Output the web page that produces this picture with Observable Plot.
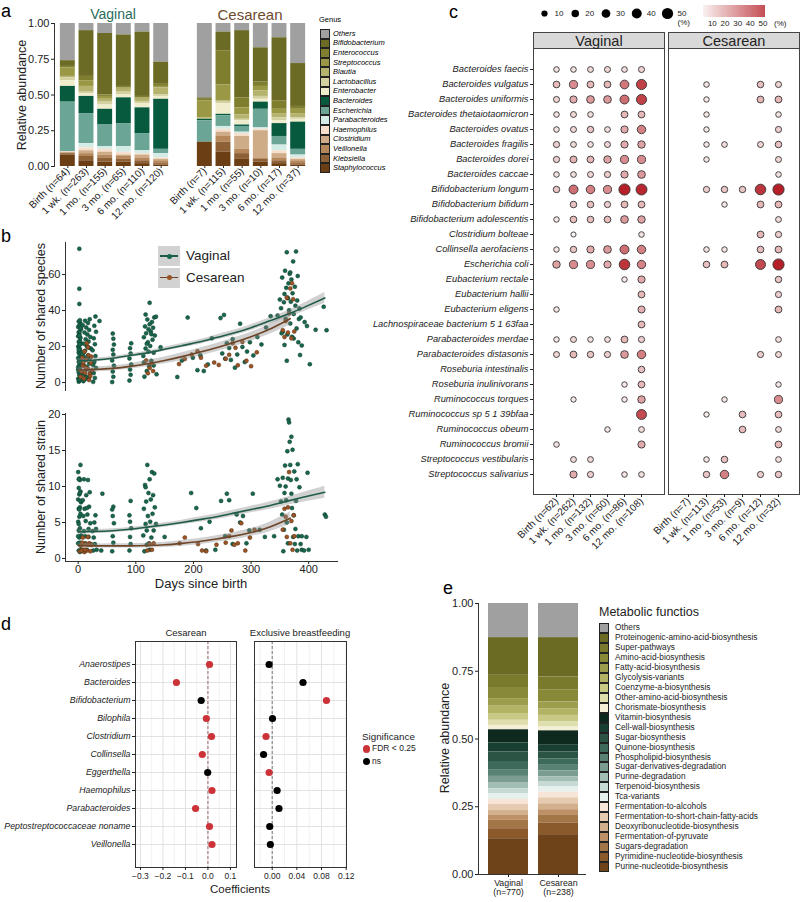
<!DOCTYPE html>
<html><head><meta charset="utf-8">
<script src="https://cdn.jsdelivr.net/npm/d3@7"></script>
<script src="https://cdn.jsdelivr.net/npm/@observablehq/plot@0.6"></script>
<style>
body{margin:0;background:#fff;}
#root{position:relative;width:800px;height:902px;overflow:hidden;background:#fff;font-family:"Liberation Sans",Arial,Helvetica,sans-serif;}
.ital g[aria-label="y-axis tick label"] text{font-style:italic;}
</style></head><body><div id="root"></div>
<script>
// ---------------- DATA ----------------
// Panel a
const genusNames = ["Others","Bifidobacterium","Enterococcus","Streptococcus","Blautia","Lactobacillus","Enterobacter","Bacteroides","Escherichia","Parabacteroides","Haemophilus","Clostridium","Veillonella","Klebsiella","Staphylococcus"];
const genusColors = ["#a0a0a0","#6c6b25","#7f7d2e","#9a9845","#b5b36d","#d3d1a0","#efedcb","#075a3e","#6aa595","#d4ece6","#f6dfcc","#cfac88","#b5875a","#8e6035","#6c3e14"];
const vagTimes = ["Birth (n=64)","1 wk. (n=263)","1 mo. (n=155)","3 mo. (n=65)","6 mo. (n=110)","12 mo. (n=120)"];
const cesTimes = ["Birth (n=7)","1 wk. (n=115)","1 mo. (n=55)","3 mo. (n=10)","6 mo. (n=17)","12 mo. (n=37)"];
// rows = time points, columns = genusNames order
const vagAbund = [
  [0.26,0.04,0.01,0.06,0.01,0.02,0.04,0.11,0.345,0.003,0.002,0.005,0.005,0.01,0.08],
  [0.05,0.32,0.03,0.04,0.04,0.01,0.02,0.12,0.21,0.03,0.02,0.02,0.02,0.03,0.04],
  [0.07,0.43,0.01,0.02,0.02,0.02,0.03,0.11,0.15,0.02,0.02,0.02,0.02,0.03,0.03],
  [0.08,0.36,0.01,0.01,0.02,0.02,0.02,0.18,0.16,0.04,0.02,0.01,0.02,0.02,0.03],
  [0.06,0.45,0.01,0.01,0.02,0.01,0.03,0.18,0.12,0.02,0.01,0.02,0.02,0.02,0.02],
  [0.27,0.15,0.02,0.01,0.05,0.01,0.02,0.35,0.03,0.03,0.01,0.01,0.02,0.01,0.01]
];
const cesAbund = [
  [0.52,0.01,0.01,0.12,0.01,0,0,0.01,0.15,0,0,0,0,0,0.17],
  [0.06,0.13,0.24,0.11,0.01,0.01,0.075,0.01,0.075,0.02,0.02,0.03,0.04,0.07,0.10],
  [0.05,0.47,0.07,0.05,0.03,0.01,0.03,0.01,0.04,0.01,0.02,0.09,0.03,0.04,0.05],
  [0.17,0.24,0.03,0.03,0.04,0.02,0.02,0.05,0.13,0.01,0.01,0.19,0.01,0.02,0.03],
  [0.10,0.44,0.06,0.03,0.03,0.02,0.02,0.09,0.06,0.04,0.02,0.03,0.02,0.02,0.02],
  [0.28,0.30,0.02,0.03,0.03,0.01,0.02,0.19,0.04,0.02,0.01,0.01,0.02,0.01,0.01]
];

// Panel b  [day, value]
const speciesVag = [
[1,0.5],[3,1.2],[0,2.1],[4,3.4],[2,4.2],[1,5.8],[5,6.5],[3,7.9],[0,8.6],[2,9.8],[4,10.7],[1,11.5],[3,12.9],[0,13.6],[5,14.4],[2,15.9],[1,16.8],[4,17.5],[3,18.6],[0,19.9],[2,20.7],[5,21.8],[1,22.6],[3,23.5],[4,24.9],[0,25.7],[2,26.8],[1,27.9],[3,28.6],[5,29.8],[0,30.9],[2,31.7],[4,32.8],[1,33.9],[3,34.6],[2,1.8],[4,5.1],[0,7.2],[5,11.9],[1,18.2],[3,21.2],[2,26.1],[4,30.3],[2,43.7],[2,52.1],[2,74.3],
[9,0.8],[12,1.9],[15,3.1],[18,2.4],[10,4.6],[21,5.5],[13,6.9],[16,7.8],[11,9.2],[19,10.4],[8,11.6],[14,12.8],[20,13.7],[17,15.1],[9,16.3],[12,17.7],[22,18.9],[15,20.2],[10,21.6],[18,22.8],[13,24.1],[21,25.3],[16,26.7],[11,27.8],[19,29.2],[14,30.6],[8,31.8],[17,33.1],[12,34.3],[20,35.2],[10,14.2],[15,8.5],[18,19.5],[13,2.8],
[26,0.4],[29,2.6],[27,5.3],[31,8.1],[28,11.4],[30,14.7],[25,17.9],[29,21.3],[27,24.6],[31,28.2],[28,31.5],[30,36.7],[26,9.7],[37,34.2],
[59,0.3],[61,3.2],[60,6.1],[62,9.4],[59,12.3],[61,15.6],[60,18.2],[62,21.1],[61,24.4],[60,27.2],
[89,1.1],[91,4.3],[90,7.2],[92,10.1],[89,13.4],[91,16.2],[90,19.1],[92,21.8],
[115,3.3],[119,6.4],[123,9.2],[127,12.1],[113,14.8],[131,16.6],[117,18.9],[125,20.3],[121,22.4],[129,23.8],[114,25.2],[133,26.1],[118,27.4],[126,28.3],[122,29.6],[130,30.5],[116,31.2],[124,32.4],[128,33.6],[120,35.1],[132,36.2],[117,37.8],[135,36.6],[124,44.3],[119,21.5],[127,26.9],[122,17.2],[131,9.5],[136,4.6],[114,11.2],
[143,19.6],[172,3.1],[180,12.2],[190,36.1],[199,13.8],[207,6.9],[212,15.2],[218,6.4],[225,10.1],[232,24.6],[247,35.8],[250,16.2],[253,37.6],[255,13.3],[258,21.9],[262,19.2],[265,12.6],[268,24.1],[272,8.3],[276,15.6],[281,32.7],[285,19.8],[289,11.4],[293,17.2],[298,22.4],[304,15.1],[311,25.3],[318,21.2],[326,30.6],[334,36.9],
[346,37.2],[350,46.1],[352,41.3],[354,58.3],[355,28.2],[357,44.6],[358,49.2],[359,62.1],[360,35.4],[361,52.6],[362,72.4],[363,26.7],[364,46.8],[365,55.1],[366,40.2],[367,60.4],[368,32.8],[369,44.9],[370,57.3],[371,25.4],[372,49.6],[373,67.3],[374,38.1],[362,12.1],[376,53.2],[377,42.7],[378,72.8],[379,30.1],[380,45.6],[381,59.2],[382,22.4],[383,35.3],[384,41.1],[385,15.3],[386,36.2],[353,27.4],[358,20.9],[363,47.3],[368,61.2],[374,24.5],
[393,33.6],[397,31.4],[402,10.2],[412,29.3],[426,42.1],[431,29.1],[388,20.6]
];
const speciesCes = [
[4,3.2],[6,6.1],[8,9.4],[10,2.2],[12,5.3],[14,12.6],[16,7.7],[18,15.2],[20,4.8],[22,10.9],[11,17.3],[15,21.8],[19,1.4],[7,13.8],[13,8.4],[17,19.6],[21,3.6],[24,6.8],[9,11.2],[23,14.4],
[121,5.2],[124,8.1],[127,10.6],[130,6.4],[118,12.3],
[175,10.3],[185,13.1],[197,15.6],[207,17.4],[213,13.8],[222,9.4],[236,11.1],[244,9.8],[256,13.2],[262,15.4],[268,21.9],[273,19.3],[277,9.6],[285,22.6],[292,12.1],[300,9.1],[310,16.8],
[355,29.1],[358,25.3],[360,34.2],[362,47.1],[364,27.8],[366,38.4],[368,52.3],[370,24.6],[371,55.2],[373,46.3],[375,28.4]
];
const strainVag = [
[1,1.1],[3,0.9],[0,2.1],[4,1.8],[2,2.9],[5,3.2],[1,3.9],[3,4.2],[0,5.1],[2,5.8],[4,6.2],[1,6.9],[3,7.1],[5,7.8],[0,8.2],[2,8.9],[4,9.3],[1,9.8],[3,10.9],[2,11.1],[0,12.0],[4,13.0],[1,4.8],[3,2.2],[5,1.2],[2,6.8],[0,3.1],[4,8.0],[1,11.0],[3,9.1],
[9,1.0],[12,2.1],[15,1.2],[18,3.0],[10,3.8],[21,4.9],[13,5.2],[16,6.1],[11,6.9],[19,7.2],[8,8.1],[14,8.8],[20,9.2],[17,10.9],[9,5.9],[12,3.1],[22,2.0],[15,7.0],[10,11.0],[18,4.1],
[26,1.1],[29,2.0],[27,2.9],[31,4.1],[28,5.0],[30,6.0],[25,3.8],[32,1.2],[42,9.0],[40,1.1],
[59,1.0],[61,2.2],[60,3.1],[62,4.9],[60,5.9],[61,7.2],[59,6.8],
[89,1.1],[91,2.0],[90,3.0],[92,4.2],[89,6.0],[91,8.0],[90,5.1],
[115,1.0],[119,1.9],[123,2.1],[127,2.9],[113,3.2],[131,3.9],[117,4.8],[125,5.1],[121,5.9],[129,6.2],[114,6.9],[133,7.1],[118,7.9],[126,8.2],[122,9.1],[130,8.8],[116,10.2],[124,11.0],[128,12.0],[120,13.0],[132,11.8],[117,9.9],[135,4.8],[124,1.2],[119,3.9],
[150,3.0],[196,9.1],[205,7.0],[213,4.2],[222,1.1],[228,5.1],[238,1.2],[248,8.0],[255,3.1],[258,9.0],[262,8.1],[268,2.0],[275,6.1],[281,5.0],[286,5.9],[292,2.1],[297,3.9],[303,9.0],[315,4.0],[324,3.0],[340,3.1],
[346,11.0],[350,10.1],[352,7.9],[354,6.1],[355,11.2],[357,4.0],[358,9.1],[359,12.9],[360,10.0],[361,8.1],[362,5.0],[363,14.9],[364,11.1],[365,19.3],[366,18.9],[367,16.2],[368,13.0],[369,10.9],[370,9.0],[371,7.0],[372,15.1],[373,3.0],[374,6.0],[375,12.1],[376,2.0],[377,4.1],[378,8.0],[379,11.0],[380,1.1],[381,13.1],[382,3.1],[384,9.9],[386,2.0],[388,1.2],[356,1.0],[364,2.1],[370,16.9],
[392,1.1],[396,3.0],[398,11.9],[400,1.2],[388,3.1],[428,6.1],[430,5.8]
];
const strainCes = [
[3,1.0],[5,1.8],[7,2.2],[9,1.2],[11,0.9],[13,2.0],[15,1.1],[17,3.0],[19,2.1],[21,1.0],[23,1.9],[6,1.1],[12,1.2],[18,1.9],[8,2.9],
[120,1.1],[124,2.0],[128,1.2],[131,2.1],
[176,2.1],[185,2.9],[208,2.0],[215,1.1],[222,1.0],[240,1.9],[256,2.2],[262,3.1],[266,3.9],[271,1.9],[277,2.1],[283,4.9],[290,1.1],[298,2.9],[306,4.0],
[355,4.0],[358,6.9],[360,5.8],[362,3.0],[364,7.1],[366,12.0],[368,2.1],[370,5.2],[372,1.2],[374,6.0],[375,3.1]
];
// smooth fits [day, fit, se]
const fitSpeciesVag = [[0,12,1.3],[30,12.5,1.1],[60,13.5,1],[90,15,1],[120,16.5,1],[150,18.5,1.1],[180,20.5,1.2],[210,22.5,1.3],[240,25,1.4],[270,27.5,1.5],[300,30.5,1.6],[330,34,1.7],[360,37.5,1.9],[390,41.5,2.3],[428,47,3]];
const fitSpeciesCes = [[0,7,1.5],[30,7.3,1.4],[60,7.9,1.4],[90,9,1.5],[120,10.5,1.7],[150,12.3,1.9],[180,14.4,2.1],[210,16.8,2.2],[240,19.4,2.3],[270,22.3,2.4],[300,25.5,2.5],[330,29.3,2.8],[368,35.5,3.5]];
const fitStrainVag = [[0,3.7,0.3],[30,3.75,0.28],[60,3.85,0.27],[90,4.05,0.27],[120,4.35,0.28],[150,4.65,0.3],[180,5.0,0.32],[210,5.4,0.35],[240,5.8,0.38],[270,6.3,0.42],[300,6.8,0.46],[330,7.3,0.5],[360,7.9,0.56],[390,8.5,0.68],[428,9.2,0.85]];
const fitStrainCes = [[0,1.8,0.3],[30,1.75,0.28],[60,1.75,0.28],[90,1.75,0.3],[120,1.8,0.33],[150,1.9,0.37],[180,2.1,0.4],[210,2.35,0.43],[240,2.7,0.46],[270,3.1,0.5],[300,3.6,0.55],[330,4.3,0.65],[368,5.6,0.85]];
const bGroups = ["Vaginal","Cesarean"];
const bLineColors = ["#1f5c48","#6e4527"];
const bDotColors = ["#18664c","#9a5426"];

// Panel c
const cSpecies = ["Bacteroides faecis","Bacteroides vulgatus","Bacteroides uniformis","Bacteroides thetaiotaomicron","Bacteroides ovatus","Bacteroides fragilis","Bacteroides dorei","Bacteroides caccae","Bifidobacterium longum","Bifidobacterium bifidum","Bifidobacterium adolescentis","Clostridium bolteae","Collinsella aerofaciens","Escherichia coli","Eubacterium rectale","Eubacterium hallii","Eubacterium eligens","Lachnospiraceae bacterium 5 1 63faa","Parabacteroides merdae","Parabacteroides distasonis","Roseburia intestinalis","Roseburia inulinivorans","Ruminococcus torques","Ruminococcus sp 5 1 39bfaa","Ruminococcus obeum","Ruminococcus bromii","Streptococcus vestibularis","Streptococcus salivarius"];
const cVagTimes = ["Birth (n=62)","1 wk. (n=262)","1 mo. (n=132)","3 mo. (n=60)","6 mo. (n=86)","12 mo. (n=108)"];
const cCesTimes = ["Birth (n=7)","1 wk. (n=113)","1 mo. (n=53)","3 mo. (n=9)","6 mo. (n=12)","12 mo. (n=32)"];
const cVag = [
[5,5,7,8,6,9],[14,25,15,15,30,42],[9,18,22,22,32,42],[5,8,6,0,15,15],[5,8,12,6,18,28],[10,7,6,8,18,20],[10,16,15,20,25,25],[5,6,8,10,18,22],
[12,32,28,25,50,48],[0,13,13,10,15,15],[4,14,13,14,22,20],[0,1,0,0,0,5],[4,12,18,22,32,28],[20,25,25,18,45,27],
[0,0,0,0,4,18],[0,0,0,0,0,15],[4,0,0,0,0,17],[0,0,0,0,0,15],[4,8,5,6,15,10],[8,15,12,10,22,28],[0,0,0,0,0,13],[0,0,0,0,4,15],
[0,3,0,0,4,20],[0,0,0,0,0,40],[0,0,0,4,0,7],[5,0,0,0,0,18],[0,7,7,0,0,0],[0,18,10,0,5,6]
];
const cCes = [
[0,0,0,0,0,0],[0,5,0,0,13,9],[0,4,0,0,15,15],[0,4,0,0,0,5],[0,4,0,0,0,10],[0,4,6,0,8,13],[0,4,0,0,0,8],[0,0,0,0,0,5],
[0,10,12,12,45,50],[0,0,4,0,15,15],[0,0,0,0,0,7],[0,0,0,0,15,10],[0,5,4,0,14,15],[0,13,15,0,40,50],
[0,0,0,0,0,12],[0,0,0,0,0,10],[0,0,0,0,0,15],[0,0,0,0,0,0],[0,0,0,0,0,6],[0,0,0,0,10,8],[0,0,0,0,0,0],[0,0,0,0,0,4],
[0,0,4,0,0,25],[0,3,0,14,0,14],[0,0,0,14,0,7],[0,0,0,0,0,15],[0,5,13,0,0,6],[0,12,28,0,10,12]
];
const cSizeLegend = [10,20,30,40,50];

// Panel d
const dGenera = ["Anaerostipes","Bacteroides","Bifidobacterium","Bilophila","Clostridium","Collinsella","Eggerthella","Haemophilus","Parabacteroides","Peptostreptococcaceae noname","Veillonella"];
const dCesCoef = [0.007,-0.14,-0.03,-0.007,0.016,-0.025,-0.001,0.018,-0.055,0.007,0.018];
const dCesSig  = [1,1,0,1,1,1,0,1,1,1,1];
const dEBCoef  = [-0.005,0.05,0.088,0.0005,-0.010,-0.014,-0.005,0.008,0.011,-0.004,-0.003];
const dEBSig   = [0,0,1,0,1,0,1,0,0,0,0];
const dSigLabels = ["FDR < 0.25","ns"];
const dSigColors = ["#cc3338","#000000"];

// Panel e
const eFunctions = ["Others","Proteinogenic-amino-acid-biosynthesis","Super-pathways","Amino-acid-biosynthesis","Fatty-acid-biosynthesis","Glycolysis-variants","Coenzyme-a-biosynthesis","Other-amino-acid-biosynthesis","Chorismate-biosynthesis","Vitamin-biosynthesis","Cell-wall-biosynthesis","Sugar-biosynthesis","Quinone-biosynthesis","Phospholipid-biosynthesis","Sugar-derivatives-degradation","Purine-degradation","Terpenoid-biosynthesis","Tca-variants","Fermentation-to-alcohols","Fermentation-to-short-chain-fatty-acids","Deoxyribonucleotide-biosynthesis","Fermentation-of-pyruvate","Sugars-degradation","Pyrimidine-nucleotide-biosynthesis","Purine-nucleotide-biosynthesis"];
const eColors = ["#a0a0a0","#6b6b24","#7a7a2c","#898a38","#9d9e4c","#b2b365","#c8c985","#dfdfae","#f3f0d5","#0e2a1f","#183f31","#2b5444","#3e6a5b","#5a8274","#7b9d91","#a2bdb4","#c6dad3","#e6f0ec","#f7e5d7","#e6cbb0","#d3b08d","#bd9068","#a37648","#8a5a2b","#6e4319"];
const eGroups = ["Vaginal (n=770)","Cesarean (n=238)"];
const eVaginal = [0.126,0.139,0.045,0.041,0.028,0.027,0.025,0.019,0.016,0.049,0.033,0.035,0.030,0.025,0.025,0.021,0.018,0.021,0.018,0.023,0.018,0.018,0.031,0.037,0.132];
const eCesarean = [0.126,0.145,0.049,0.043,0.025,0.025,0.024,0.019,0.014,0.053,0.025,0.025,0.024,0.021,0.022,0.019,0.018,0.019,0.021,0.022,0.022,0.021,0.028,0.043,0.147];

// ---------------- HELPERS ----------------
const FONT = '"Liberation Sans", Arial, Helvetica, sans-serif';
const root = document.getElementById("root");
const PSTYLE = {fontFamily: FONT, fontSize: "10px", color: "#222", background: "transparent", overflow: "visible"};
function put(node, x, y) { node.style.position = "absolute"; node.style.left = x + "px"; node.style.top = y + "px"; root.appendChild(node); return node; }
function txt(s, x, y, o = {}) {
  const d = document.createElement("div");
  d.textContent = s;
  Object.assign(d.style, {position: "absolute", left: x + "px", top: y + "px", whiteSpace: "nowrap", fontSize: (o.size || 10) + "px", lineHeight: "1.15", fontFamily: FONT, color: o.color || "#000"});
  if (o.italic) d.style.fontStyle = "italic";
  const ax = o.anchor === "middle" ? "-50%" : o.anchor === "end" ? "-100%" : "0";
  d.style.transform = `translate(${ax},-50%)` + (o.rotate ? ` rotate(${o.rotate}deg)` : "");
  root.appendChild(d); return d;
}
function box(x, y, w, h, st) { const d = document.createElement("div"); Object.assign(d.style, {position: "absolute", left: x + "px", top: y + "px", width: w + "px", height: h + "px", boxSizing: "border-box"}, st); root.appendChild(d); return d; }

// ---------------- PANEL A ----------------
const genusStack = genusNames.slice().reverse();
function abundRows(times, rows) { const out = []; times.forEach((t, i) => genusNames.forEach((g, j) => out.push({time: t, genus: g, value: rows[i][j]}))); return out; }
function panelA(times, rows, showY, width, ml, range) {
  return Plot.plot({
    width, height: 216, marginTop: 3, marginBottom: 70, marginLeft: ml, marginRight: 2, style: PSTYLE,
    x: {type: "band", domain: times, range, paddingInner: 0.2, paddingOuter: 0.1, round: false},
    y: {domain: [0, 1], axis: showY ? undefined : null},
    color: {domain: genusNames, range: genusColors},
    marks: [
      Plot.barY(abundRows(times, rows), {x: "time", y: "value", fill: "genus", order: genusStack}),
      showY ? Plot.frame({anchor: "left", stroke: "#333"}) : null,
      showY ? Plot.axisY({ticks: [0, 0.25, 0.5, 0.75, 1], tickFormat: ".2f", tickSize: 3, tickPadding: 2, fontSize: 11, label: null, color: "#222"}) : null,
      Plot.axisX({tickRotate: -45, tickSize: 2, tickPadding: 1, fontSize: 10, label: null, color: "#222"})
    ]
  });
}
put(panelA(vagTimes, vagAbund, true, 172, 54, [58, 170]), 0, 20);
put(panelA(cesTimes, cesAbund, false, 120, 0, [5, 117]), 190, 20);
txt("a", 1, 11, {size: 18});
txt("Vaginal", 113, 14, {size: 14, anchor: "middle", color: "#2b6c5a"});
txt("Cesarean", 250, 15, {size: 15, anchor: "middle", color: "#6e4b2f"});
txt("Relative abundance", 22, 95, {size: 12.5, anchor: "middle", rotate: -90, color: "#222"});
txt("Genus", 319, 20, {size: 7.5});
genusNames.forEach((g, i) => {
  const y0 = 29 + i * 9.6;
  box(320, y0, 10, 9.6, {background: genusColors[i], border: "0.8px solid #222"});
  txt(g, 333, y0 + 4.8, {size: 7.5, italic: true});
});

// ---------------- PANEL B ----------------
function panelB(ptsV, ptsC, fitV, fitC, yDomain, yTicks, height, mt, mb, showX) {
  const px = d => d[0], py = d => d[1];
  return Plot.plot({
    width: 340, height, marginTop: mt, marginBottom: mb, marginLeft: 65, marginRight: 3, style: PSTYLE,
    x: {domain: [-22, 450], axis: showX ? undefined : null},
    y: {domain: yDomain},
    marks: [
      Plot.dot(ptsV, {x: px, y: py, r: 2, fill: bDotColors[0], stroke: "#0d3d2d", strokeWidth: 0.5}),
      Plot.dot(ptsC, {x: px, y: py, r: 2, fill: bDotColors[1], stroke: "#5a2e10", strokeWidth: 0.5}),
      Plot.areaY(fitV, {x: px, y1: d => d[1] - d[2], y2: d => d[1] + d[2], fill: "#8c8c8c", fillOpacity: 0.4, curve: "natural"}),
      Plot.areaY(fitC, {x: px, y1: d => d[1] - d[2], y2: d => d[1] + d[2], fill: "#8c8c8c", fillOpacity: 0.4, curve: "natural"}),
      Plot.line(fitV, {x: px, y: py, stroke: bLineColors[0], strokeWidth: 1.6, curve: "natural"}),
      Plot.line(fitC, {x: px, y: py, stroke: bLineColors[1], strokeWidth: 1.6, curve: "natural"}),
      Plot.frame({anchor: "left", stroke: "#333"}),
      showX ? Plot.frame({anchor: "bottom", stroke: "#333"}) : null,
      Plot.axisY({ticks: yTicks, tickSize: 3, tickPadding: 2, fontSize: 11, label: null, color: "#222"}),
      showX ? Plot.axisX({ticks: [0, 100, 200, 300, 400], tickSize: 3, tickPadding: 1, fontSize: 11, label: null, color: "#222"}) : null
    ]
  });
}
put(panelB(speciesVag, speciesCes, fitSpeciesVag, fitSpeciesCes, [-4.4, 77.8], [0, 20, 40, 60], 160, 7, 5, false), 0, 235);
put(panelB(strainVag, strainCes, fitStrainVag, fitStrainCes, [-0.42, 20.14], [0, 5, 10, 15, 20], 191, 8, 35, true), 0, 405);
txt("b", 1, 236, {size: 18});
txt("Number of shared species", 41, 316, {size: 12.5, anchor: "middle", rotate: -90, color: "#222"});
txt("Number of shared strain", 41, 487, {size: 12.5, anchor: "middle", rotate: -90, color: "#222"});
txt("Days since birth", 201, 584, {size: 13, anchor: "middle", color: "#222"});
bGroups.forEach((g, i) => {
  const y0 = 246 + i * 21.5;
  box(158, y0, 22, 20, {background: "#d2d2d2"});
  box(160, y0 + 9.2, 18, 1.6, {background: bLineColors[i]});
  box(166.5, y0 + 7.5, 5, 5, {background: bDotColors[i], borderRadius: "50%"});
  txt(g, 186, y0 + 10, {size: 13.5, color: "#222"});
});

// ---------------- PANEL C ----------------
const cR = {type: "linear", domain: [0, 50], range: [2.5, 5.6]};
const cColor = {type: "linear", domain: [3, 52], range: ["#f7ecea", "#b2161f"]};
function panelC(rows, times, showY, width, ml, xRange) {
  const data = [];
  cSpecies.forEach((s, i) => rows[i].forEach((v, j) => { if (v > 0) data.push({sp: s, t: times[j], v}); }));
  return Plot.plot({
    width, height: 531, marginTop: 0, marginBottom: 85, marginLeft: ml, marginRight: 1, style: PSTYLE,
    className: "ital",
    x: {type: "point", domain: times, range: xRange},
    y: {type: "point", domain: cSpecies, range: [10, 437], axis: showY ? undefined : null},
    r: cR, color: cColor,
    marks: [
      Plot.frame({stroke: "#444"}),
      Plot.dot(data, {x: "t", y: "sp", r: "v", fill: "v", stroke: "#333", strokeWidth: 0.9}),
      Plot.axisX({tickRotate: -45, tickSize: 3, tickPadding: 2, fontSize: 10, label: null, color: "#222"}),
      showY ? Plot.axisY({tickSize: 3, tickPadding: 2, fontSize: 9.3, fontStyle: "italic", label: null, color: "#222"}) : null
    ]
  });
}
put(panelC(cVag, cVagTimes, true, 265, 133, [145, 252]), 400, 48);
put(panelC(cCes, cCesTimes, false, 133, 1, [12, 120]), 667, 48);
box(533, 32, 132, 17, {background: "#d9d9d9", border: "1px solid #444"});
box(668, 32, 132, 17, {background: "#d9d9d9", border: "1px solid #444"});
txt("Vaginal", 599, 40.5, {size: 14.5, anchor: "middle", color: "#222"});
txt("Cesarean", 734, 40.5, {size: 14.5, anchor: "middle", color: "#222"});
txt("c", 449, 12, {size: 18});
// size legend
put(Plot.plot({
  width: 170, height: 26, margin: 0, style: PSTYLE,
  x: {domain: [10, 50], range: [14, 137], axis: null}, r: cR,
  marks: [
    Plot.dot(cSizeLegend, {x: d => d, r: d => d, fill: "#000"}),
    Plot.text(cSizeLegend, {x: d => d, text: d => String(d), dx: 10, textAnchor: "start", fontSize: 8, fill: "#222"}),
    Plot.text([50], {x: d => d, text: () => "(%)", dx: 10, dy: 9, textAnchor: "start", fontSize: 8, fill: "#222"})
  ]
}), 530, 0);
// colour legend
put(Plot.plot({
  width: 80, height: 30, marginTop: 5, marginBottom: 13, marginLeft: 8, marginRight: 10, style: PSTYLE,
  x: {domain: [3, 52]}, y: {domain: [0, 1], axis: null}, color: cColor,
  marks: [
    Plot.rect(d3.range(3, 52, 0.5), {x1: d => d, x2: d => d + 0.5, y1: 0, y2: 1, fill: d => d}),
    Plot.axisX({ticks: [10, 20, 30, 40, 50], tickSize: 0, tickPadding: 3, fontSize: 8, label: null, color: "#222"})
  ]
}), 695, 0);
txt("(%)", 774, 24, {size: 8, color: "#222"});

// ---------------- PANEL D ----------------
function panelD(coef, sig, o) {
  const data = dGenera.map((g, i) => ({g, v: coef[i], s: sig[i] ? dSigLabels[0] : dSigLabels[1]}));
  return Plot.plot({
    width: o.width, height: 246, marginTop: 0, marginBottom: 20, marginLeft: o.ml, marginRight: 1, style: PSTYLE,
    className: "ital",
    x: {domain: o.domain},
    y: {type: "point", domain: dGenera, range: [12, 214], axis: o.showY ? undefined : null},
    color: {domain: dSigLabels, range: dSigColors},
    marks: [
      Plot.ruleX(o.minor, {stroke: "#f1f1f1"}),
      Plot.ruleX(o.ticks, {stroke: "#e2e2e2"}),
      Plot.ruleY(dGenera, {stroke: "#e2e2e2"}),
      Plot.ruleX([0], {stroke: o.zero, strokeDasharray: "3,2"}),
      Plot.dot(data, {x: "v", y: "g", r: 3.6, fill: "s"}),
      Plot.frame({stroke: "#333"}),
      Plot.axisX({ticks: o.ticks, tickFormat: o.fmt, tickSize: 3, tickPadding: 2, fontSize: 8.5, label: null, color: "#222"}),
      o.showY ? Plot.axisY({tickSize: 3, tickPadding: 2, fontSize: 8.8, fontStyle: "italic", label: null, color: "#222"}) : null
    ]
  });
}
put(panelD(dCesCoef, dCesSig, {width: 237, ml: 135, domain: [-0.322, 0.127], ticks: [-0.3, -0.2, -0.1, 0, 0.1], minor: [-0.25, -0.15, -0.05, 0.05], fmt: ".1f", showY: true, zero: "#9a6a6a"}), 0, 641);
put(panelD(dEBCoef, dEBSig, {width: 94, ml: 1, domain: [-0.0287, 0.1205], ticks: [0, 0.04, 0.08, 0.12], minor: [-0.02, 0.02, 0.06, 0.1], fmt: ".2f", showY: false, zero: "#777"}), 253, 641);
txt("d", 1, 624, {size: 18});
txt("Cesarean", 186, 633, {size: 9.5, anchor: "middle", color: "#222"});
txt("Exclusive breastfeeding", 300, 633, {size: 9.5, anchor: "middle", color: "#222"});
txt("Coefficients", 240, 890, {size: 11.5, anchor: "middle", color: "#222"});
txt("Significance", 362, 737, {size: 9.8, color: "#222"});
dSigLabels.forEach((l, i) => {
  box(362.5, 749 + i * 12.5 - 3.7, 7.4, 7.4, {background: dSigColors[i], borderRadius: "50%"});
  txt(l, 372, 749 + i * 12.5, {size: 8.5, color: "#222"});
});

// ---------------- PANEL E ----------------
const eData = [];
eFunctions.forEach((f, i) => { eData.push({g: eGroups[0], f, v: eVaginal[i]}); eData.push({g: eGroups[1], f, v: eCesarean[i]}); });
put(Plot.plot({
  width: 190, height: 307, marginTop: 8, marginBottom: 28, marginLeft: 78, marginRight: 5, style: PSTYLE,
  x: {type: "band", domain: eGroups, range: [83, 183], paddingInner: 0.2, paddingOuter: 0.1, round: false},
  y: {domain: [0, 1]},
  color: {domain: eFunctions, range: eColors},
  marks: [
    Plot.barY(eData, {x: "g", y: "v", fill: "f", order: eFunctions.slice().reverse()}),
    Plot.frame({anchor: "left", stroke: "#333"}),
    Plot.frame({anchor: "bottom", stroke: "#333"}),
    Plot.axisY({ticks: [0, 0.25, 0.5, 0.75, 1], tickFormat: ".2f", tickSize: 3, tickPadding: 2, fontSize: 11, label: null, color: "#222"}),
    Plot.axisX({tickSize: 3, tickPadding: 2, fontSize: 8.8, label: null, color: "#222", tickFormat: d => d.replace(" (", "\n(")})
  ]
}), 400, 595);
txt("e", 443, 588, {size: 18});
txt("Relative abundance", 445, 738, {size: 12.5, anchor: "middle", rotate: -90, color: "#222"});
txt("Metabolic functios", 599, 612, {size: 12.5, color: "#222"});
eFunctions.forEach((f, i) => {
  const y0 = 623.3 + i * 9.94;
  box(599, y0, 10, 9.94, {background: eColors[i], border: "0.8px solid #222"});
  txt(f, 615, y0 + 5, {size: 8.3, color: "#222"});
});
</script></body></html>
